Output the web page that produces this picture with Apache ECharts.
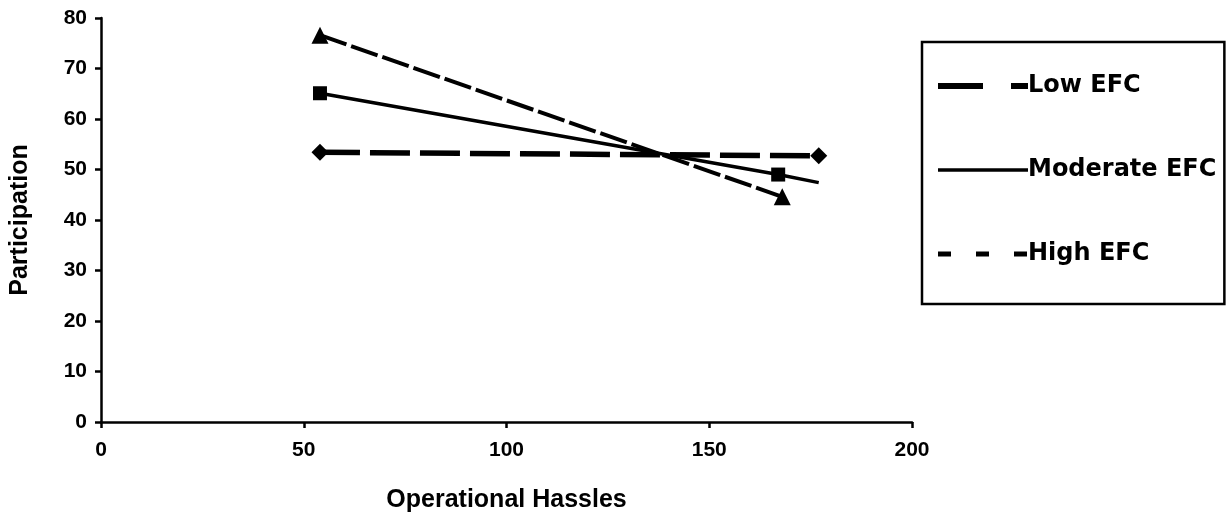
<!DOCTYPE html>
<html>
<head>
<meta charset="utf-8">
<script src="https://cdn.jsdelivr.net/npm/echarts@6/dist/echarts.min.js"></script>
<style>
html, body { margin: 0; padding: 0; background: #fff; }
#chart { width: 1229px; height: 519px; }
</style>
</head>
<body>
<div id="chart"></div>
<script>
// series names
var seriesNames = ['Low EFC', 'Moderate EFC', 'High EFC'];
// x = operational hassles, y = participation
var lowX = [54, 177];
var lowY = [53.4, 52.7];
var modX = [54, 167, 177];
var modY = [65.1, 49.0, 47.4];
var highX = [54, 168];
var highY = [76.6, 44.6];
// points drawn without marker (index in series)
var modNoMarker = [2];
var xTicks = [0, 50, 100, 150, 200];
var yTicks = [0, 10, 20, 30, 40, 50, 60, 70, 80];

function _pairs(xs, ys, noMarker) {
	var out = [];
	for (var i = 0; i < xs.length; i++) {
		var item = { value: [xs[i], ys[i]] };
		if (noMarker && noMarker.indexOf(i) > -1) {
			item.symbol = 'none';
		}
		out.push(item);
	}
	return out;
}

var font = 'Liberation Sans';
var chart = echarts.init(document.getElementById('chart'));
var option = {
	backgroundColor: '#fff',
	animation: false,
	grid: { left: 98, right: 317, top: 18, bottom: 97, containLabel: false },
	legend: {
		orient: 'vertical',
		left: 922,
		top: 42,
		padding: [32, 8, 38, 13],
		itemWidth: 90,
		itemHeight: 26,
		itemGap: 60,
		borderColor: '#000',
		borderWidth: 2.5,
		borderRadius: 0,
		textStyle: { fontFamily: 'DejaVu Sans', fontWeight: 'bold', fontSize: 24, color: '#000', padding: [0, 0, 0, -5] },
		itemStyle: { opacity: 0 },
		data: [
			{ name: seriesNames[0], lineStyle: { width: 6, type: [45, 28] } },
			{ name: seriesNames[1], lineStyle: { width: 3.5, type: 'solid' } },
			{ name: seriesNames[2], lineStyle: { width: 5, type: [13, 25] } }
		]
	},
	xAxis: {
		type: 'value',
		min: 0,
		max: 200,
		interval: 50,
		name: 'Operational Hassles',
		nameLocation: 'middle',
		nameGap: 66,
		nameTextStyle: { fontFamily: font, fontWeight: 'bold', fontSize: 25, color: '#000' },
		axisLine: { lineStyle: { color: '#000', width: 2.5 } },
		axisTick: { show: true, length: 6, lineStyle: { color: '#000', width: 2.5 } },
		axisLabel: { margin: 18, fontFamily: font, fontWeight: 'bold', fontSize: 21, color: '#000',
			formatter: function (v) { return xTicks.indexOf(v) > -1 ? v : ''; } },
		splitLine: { show: false }
	},
	yAxis: {
		type: 'value',
		min: 0,
		max: 80,
		interval: 10,
		name: 'Participation',
		nameLocation: 'middle',
		nameRotate: 90,
		nameGap: 68,
		nameTextStyle: { fontFamily: font, fontWeight: 'bold', fontSize: 25, color: '#000' },
		axisLine: { show: true, lineStyle: { color: '#000', width: 2.5 } },
		axisTick: { show: true, length: 6, lineStyle: { color: '#000', width: 2.5 } },
		axisLabel: { margin: 14, fontFamily: font, fontWeight: 'bold', fontSize: 21, color: '#000',
			formatter: function (v) { return yTicks.indexOf(v) > -1 ? v : ''; } },
		splitLine: { show: false }
	},
	series: [
		{
			name: seriesNames[0],
			type: 'line',
			data: _pairs(lowX, lowY),
			symbol: 'diamond',
			symbolSize: 17,
			itemStyle: { color: '#000' },
			lineStyle: { color: '#000', width: 5.5, type: [40, 10] }
		},
		{
			name: seriesNames[1],
			type: 'line',
			data: _pairs(modX, modY, modNoMarker),
			symbol: 'rect',
			symbolSize: 14,
			itemStyle: { color: '#000' },
			lineStyle: { color: '#000', width: 3.5 }
		},
		{
			name: seriesNames[2],
			type: 'line',
			data: _pairs(highX, highY),
			symbol: 'triangle',
			symbolSize: 17,
			itemStyle: { color: '#000' },
			lineStyle: { color: '#000', width: 4, type: [28, 5] }
		}
	]
};
chart.setOption(option);
</script>
</body>
</html>
